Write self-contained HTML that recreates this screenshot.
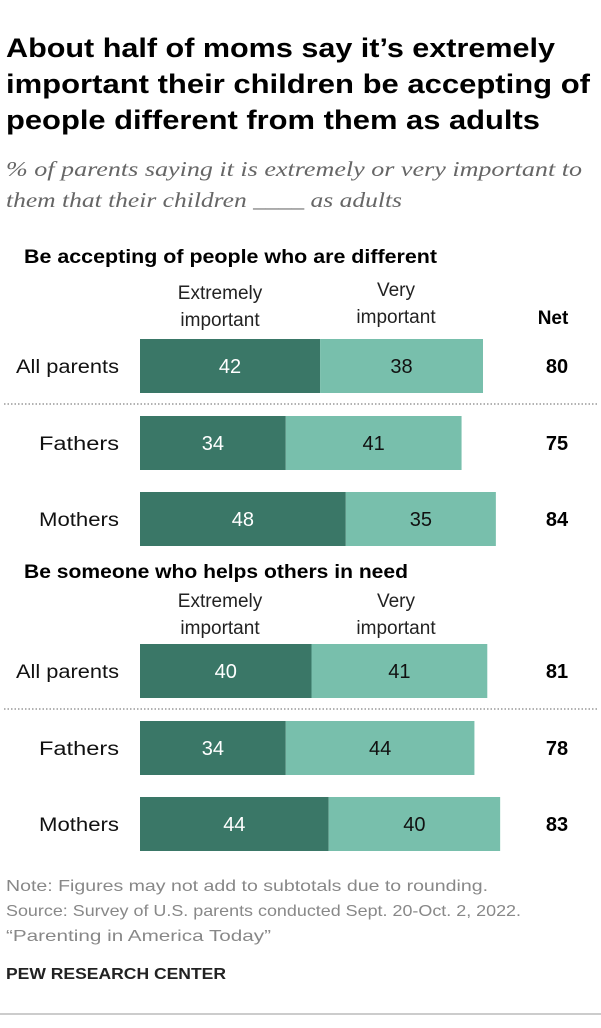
<!DOCTYPE html>
<html><head><meta charset="utf-8"><style>
body{margin:0;background:#fff;width:601px;height:1023px;overflow:hidden;font-family:"Liberation Sans",Arial,sans-serif;}
</style></head><body>
<svg id="chart" width="601" height="1023" xmlns="http://www.w3.org/2000/svg" font-family="Liberation Sans, Arial, sans-serif">
<text font-size="27" font-weight="bold" fill="#000" lengthAdjust="spacingAndGlyphs"><tspan x="6" y="57" textLength="549" lengthAdjust="spacingAndGlyphs">About half of moms say it’s extremely</tspan><tspan x="6" y="93" textLength="584" lengthAdjust="spacingAndGlyphs">important their children be accepting of</tspan><tspan x="6" y="129" textLength="534" lengthAdjust="spacingAndGlyphs">people different from them as adults</tspan></text>
<text font-family="Liberation Serif, serif" font-style="italic" font-size="21" fill="#666"><tspan x="6" y="176" textLength="576" lengthAdjust="spacingAndGlyphs">% of parents saying it is extremely or very important to</tspan><tspan x="6" y="207" textLength="396" lengthAdjust="spacingAndGlyphs">them that their children ____ as adults</tspan></text>
<g id="bars"></g>
<text font-size="16" fill="#888"><tspan x="6" y="891" textLength="482" lengthAdjust="spacingAndGlyphs">Note: Figures may not add to subtotals due to rounding.</tspan><tspan x="6" y="916" textLength="515" lengthAdjust="spacingAndGlyphs">Source: Survey of U.S. parents conducted Sept. 20-Oct. 2, 2022.</tspan><tspan x="6" y="941" textLength="265" lengthAdjust="spacingAndGlyphs">“Parenting in America Today”</tspan></text>
<text x="6" y="979" font-size="16" font-weight="bold" fill="#222" textLength="220" lengthAdjust="spacingAndGlyphs">PEW RESEARCH CENTER</text>
<line x1="0" y1="1014" x2="601" y2="1014" stroke="#999" stroke-width="1"/>
</svg>
<script>
const sections=["Be accepting of people who are different","Be someone who helps others in need"];
const categories=["All parents","Fathers","Mothers"];
const extremely=[[42,34,48],[40,34,44]];
const very=[[38,41,35],[41,44,40]];
const net=[[80,75,84],[81,78,83]];
const NS="http://www.w3.org/2000/svg";
const g=document.getElementById('bars');
const x0=140,scale=343/80;
function xs(v){return v*scale;}
function mk(tag,attrs,txt){const e=document.createElementNS(NS,tag);for(const k in attrs)e.setAttribute(k,attrs[k]);if(txt!==undefined)e.textContent=txt;g.appendChild(e);return e;}
const secTop=[263,578];
const secW=[413,384];
const catW=[103,80,80];
sections.forEach((s,si)=>{
  const t0=secTop[si];
  let e=mk('text',{x:24,y:t0,'font-size':19,'font-weight':'bold',fill:'#000',textLength:secW[si],lengthAdjust:'spacingAndGlyphs'},s);
  
  
  const h1=mk('text',{x:220,'text-anchor':'middle','font-size':19,fill:'#222'});
  h1.innerHTML='<tspan x="220" y="'+(t0+36-si*7)+'">Extremely</tspan><tspan x="220" y="'+(t0+63-si*7)+'">important</tspan>';
  
  
  const h2=mk('text',{x:396,'text-anchor':'middle','font-size':19,fill:'#222'});
  h2.innerHTML='<tspan x="396" y="'+(t0+33-si*4)+'">Very</tspan><tspan x="396" y="'+(t0+60-si*4)+'">important</tspan>';
  
  
  if(si===0){e=mk('text',{x:553,y:t0+61,'text-anchor':'middle','font-size':19,'font-weight':'bold',fill:'#000'},'Net');
  
  }
  const barTop=si===0?[339,416,492]:[644,721,797];
  categories.forEach((c,i)=>{
    const y=barTop[i],h=54,cy=y+h/2+7;
    const a=extremely[si][i],b=very[si][i];
    e=mk('text',{x:119,y:cy,'text-anchor':'end','font-size':19,fill:'#111',textLength:catW[i],lengthAdjust:'spacingAndGlyphs'},c);
    
    
    e=mk('rect',{x:x0,y:y,width:xs(a),height:h,fill:'#3a7767'});
    
    
    e=mk('rect',{x:x0+xs(a),y:y,width:xs(b),height:h,fill:'#78bfac'});
    
    
    e=mk('text',{x:x0+xs(a)/2,y:cy,'text-anchor':'middle','font-size':20,fill:'#fff'},a);
    
    
    e=mk('text',{x:x0+xs(a)+xs(b)/2,y:cy,'text-anchor':'middle','font-size':20,fill:'#111'},b);
    
    
    e=mk('text',{x:557,y:cy,'text-anchor':'middle','font-size':20,'font-weight':'bold',fill:'#000'},net[si][i]);
    
    
    if(i===0){e=mk('line',{x1:4,x2:597,y1:y+h+11,y2:y+h+11,stroke:'#999','stroke-width':1.5,'stroke-dasharray':'1.5,2'});
    
    }
  });
});
</script>
</body></html>
